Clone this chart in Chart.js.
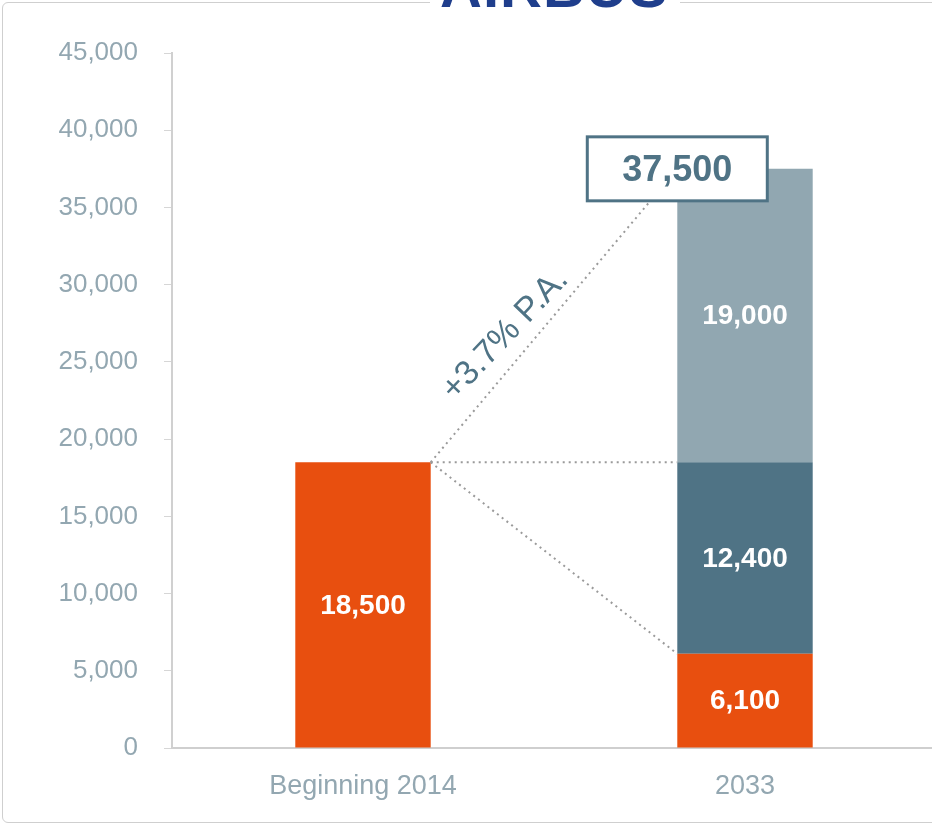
<!DOCTYPE html>
<html>
<head>
<meta charset="utf-8">
<script src="https://cdn.jsdelivr.net/npm/chart.js@4.4.0/dist/chart.umd.min.js"></script>
<style>
html, body { margin:0; padding:0; background:#fff; overflow:hidden; width:932px; height:826px; }
#frame { position:absolute; left:2px; top:2px; width:940px; height:819px; border:1px solid #cfcfcf; border-radius:6px; }
#logo { position:absolute; left:430px; top:0; width:250px; height:40px; background:#fff; overflow:hidden; }
#logo span { position:absolute; left:10px; top:-47px; line-height:58px; font:bold 58px "Liberation Sans", Arial, sans-serif; color:#1f3e8c; letter-spacing:1px; }
#wrap { position:absolute; left:0; top:0; width:936px; height:826px; }
</style>
</head>
<body>
<div id="frame"></div>
<div id="logo"><span>AIRBUS</span></div>
<div id="wrap"><canvas id="grafico"></canvas></div>
<script>
// valores
const categorias = ["Beginning 2014", "2033"]
const naranja = [18500, 6100]
const oscuro = [null, 12400]
const claro = [null, 19000]
const yMax = 45000
const yPaso = 5000
const totalTexto = "37,500"
const crecimiento = "+3.7% P.A."

const fuente = '"Liberation Sans", Arial, sans-serif'
const gris = "#93a7b1"

const formato = (v) => v.toLocaleString("en-US")

const extras = {
    id: "extras",
    afterDatasetsDraw(chart) {
        const ctx = chart.ctx
        const y = chart.scales.y
        const m0 = chart.getDatasetMeta(0).data
        const b1 = m0[0]
        const b2 = m0[1]
        const x1 = b1.x + b1.width / 2
        const x2 = b2.x - b2.width / 2
        const yBase = y.getPixelForValue(naranja[0])
        const total = naranja[1] + oscuro[1] + claro[1]
        const yTotal = y.getPixelForValue(total)
        const yBajo = y.getPixelForValue(naranja[1])

        // lineas punteadas
        ctx.save()
        ctx.strokeStyle = "#9a9a9a"
        ctx.lineWidth = 2
        ctx.setLineDash([2, 4])
        ;[yTotal, yBase, yBajo].forEach((yy) => {
            ctx.beginPath()
            ctx.moveTo(x1, yBase)
            ctx.lineTo(x2, yy)
            ctx.stroke()
        })
        ctx.restore()

        // etiquetas dentro de las barras
        ctx.save()
        ctx.fillStyle = "#fff"
        ctx.font = "bold 28px " + fuente
        ctx.textAlign = "center"
        ctx.textBaseline = "middle"
        chart.data.datasets.forEach((ds, i) => {
            chart.getDatasetMeta(i).data.forEach((el, j) => {
                const v = ds.data[j]
                if (v == null) return
                ctx.fillText(formato(v), el.x, (el.y + el.base) / 2 + 1)
            })
        })
        ctx.restore()

        // texto rotado
        const dx = x2 - x1
        const dy = yTotal - yBase
        const len = Math.sqrt(dx * dx + dy * dy)
        const ux = dx / len, uy = dy / len
        const ang = Math.atan2(dy, dx)
        const mx = (x1 + x2) / 2 - ux * 46 + uy * 25
        const my = (yBase + yTotal) / 2 - uy * 46 - ux * 25
        ctx.save()
        ctx.translate(mx, my)
        ctx.rotate(ang + 0.06)
        ctx.fillStyle = "#4f7385"
        ctx.font = "34px " + fuente
        ctx.textAlign = "center"
        ctx.textBaseline = "middle"
        ctx.fillText(crecimiento, 0, 0)
        ctx.restore()

        // caja del total
        const w = 180, h = 64
        ctx.save()
        ctx.fillStyle = "#fff"
        ctx.fillRect(x2 - w / 2, yTotal - h / 2, w, h)
        ctx.strokeStyle = "#4f7385"
        ctx.lineWidth = 3
        ctx.strokeRect(x2 - w / 2, yTotal - h / 2, w, h)
        ctx.fillStyle = "#4f7385"
        ctx.font = "bold 36px " + fuente
        ctx.textAlign = "center"
        ctx.textBaseline = "middle"
        ctx.fillText(totalTexto, x2, yTotal + 2)
        ctx.restore()
    }
}

const config = {
    type: "bar",
    data: {
        labels: categorias,
        datasets: [
            { label: "a", data: naranja, backgroundColor: "#e84f0f" },
            { label: "b", data: oscuro, backgroundColor: "#4f7385" },
            { label: "c", data: claro, backgroundColor: "#91a7b1" }
        ]
    },
    options: {
        responsive: false,
        animation: false,
        maintainAspectRatio: false,
        datasets: { bar: { barPercentage: 1, categoryPercentage: 0.3545 } },
        layout: { padding: { top: 53, left: 0, right: 0, bottom: 0 } },
        plugins: { legend: { display: false }, tooltip: { enabled: false } },
        scales: {
            x: {
                stacked: true,
                grid: { display: false, drawTicks: false },
                border: { color: "#cfcfcf", width: 2 },
                ticks: { color: gris, font: { family: fuente, size: 27 }, padding: 22 },
                afterFit: (s) => { s.height = 78 }
            },
            y: {
                stacked: true,
                min: 0,
                max: yMax,
                grid: { drawOnChartArea: false, tickLength: 8, color: "#d6d6d6" },
                border: { color: "#d0d0d0", width: 2 },
                ticks: {
                    stepSize: yPaso,
                    color: gris,
                    font: { family: fuente, size: 26 },
                    padding: 26,
                    callback: (v) => formato(v)
                },
                afterFit: (s) => { s.width = 172 }
            }
        }
    },
    plugins: [extras]
}

const chartDOM = document.getElementById("grafico")
chartDOM.width = 936
chartDOM.height = 826
new Chart(chartDOM, config)
</script>
</body>
</html>
